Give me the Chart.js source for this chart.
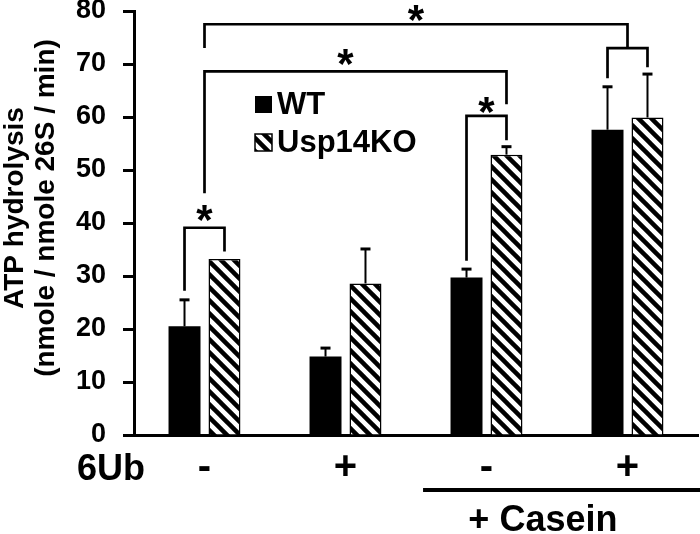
<!DOCTYPE html>
<html><head><meta charset="utf-8">
<script src="https://cdn.jsdelivr.net/npm/chart.js@4/dist/chart.umd.min.js"></script>
<style>html,body{margin:0;padding:0;background:#fff;}#wrap{width:700px;height:534px;}</style>
</head><body><div id="wrap"><canvas id="c" width="700" height="534"></canvas></div>
<script>
// ---- data ----
const categories = ['-', '+', '-', '+'];
const seriesNames = ['WT', 'Usp14KO'];
const wtValues = [20.5, 14.8, 29.7, 57.6];
const koValues = [33.2, 28.6, 52.9, 59.9];
const wtErrors = [5.0, 1.6, 1.6, 8.1];
const koErrors = [0, 6.5, 1.5, 8.2];
const yTicks = [0, 10, 20, 30, 40, 50, 60, 70, 80];
const yTitle = ['ATP hydrolysis', '(nmole / nmole 26S / min)'];
const rowLabel = '6Ub';
const groupLabel = '+ Casein';
// significance brackets: points as [[category, bar(0=WT,1=KO,'mid')], value]
const brackets = [
  [[[0,0],27.2],[[0,0],39.1],[[0,1],39.1],[[0,1],34.6]],
  [[[0,'mid'],45.6],[[0,'mid'],68.6],[[2,1],68.6],[[2,1],62.4]],
  [[[2,0],32.9],[[2,0],60.2],[[2,1],60.2],[[2,1],55.6]],
  [[[3,0],67.3],[[3,0],73.0],[[3,1],73.0],[[3,1],69.4]],
  [[[0,'mid'],73.0],[[0,'mid'],77.5],[[3,'mid'],77.5],[[3,'mid'],73.0]]
];
const stars = [[[0,'mid'],41.8],[[1,'mid'],71.1],[[2,'mid'],62.2],[[1.5,'mid'],79.4]];
const caseinRange = [1.55, 3.6];
const caseinTextAt = 2.4;

const FONT = "'Liberation Sans', Arial, sans-serif";

function makeHatch() {
  const s = 13;
  const c = document.createElement('canvas');
  c.width = s; c.height = s;
  const g = c.getContext('2d');
  g.fillStyle = '#fff'; g.fillRect(0, 0, s, s);
  g.strokeStyle = '#000'; g.lineWidth = 4.5;
  for (let k = -1; k <= 1; k++) {
    g.beginPath(); g.moveTo(k * s - 2, -2); g.lineTo(k * s + s + 2, s + 2); g.stroke();
  }
  return document.getElementById('c').getContext('2d').createPattern(c, 'repeat');
}
const hatch = makeHatch();

const errorSets = [wtErrors, koErrors];
const valueSets = [wtValues, koValues];

const annot = {
  id: 'annot',
  afterDatasetsDraw(chart) {
    const ctx = chart.ctx;
    const xs = chart.scales.x, ys = chart.scales.y;
    const metas = [chart.getDatasetMeta(0), chart.getDatasetMeta(1)];
    const px = (ref) => {
      const [cat, b] = ref;
      if (b === 'mid') return xs.getPixelForValue(cat);
      return metas[b].data[cat].x;
    };
    ctx.save();
    ctx.strokeStyle = '#000'; ctx.fillStyle = '#000';
    // error bars
    for (let d = 0; d < 2; d++) {
      metas[d].data.forEach((bar, i) => {
        const e = errorSets[d][i];
        if (!e) return;
        const top = ys.getPixelForValue(valueSets[d][i] + e);
        ctx.lineWidth = 2;
        ctx.beginPath(); ctx.moveTo(bar.x, bar.y); ctx.lineTo(bar.x, top); ctx.stroke();
        ctx.lineWidth = 3;
        ctx.beginPath(); ctx.moveTo(bar.x - 5, top); ctx.lineTo(bar.x + 5, top); ctx.stroke();
      });
    }
    // brackets
    ctx.lineWidth = 2.7; ctx.lineJoin = 'miter'; ctx.lineCap = 'butt';
    brackets.forEach(path => {
      ctx.beginPath();
      path.forEach(([ref, v], k) => {
        const X = px(ref), Y = ys.getPixelForValue(v);
        if (k === 0) ctx.moveTo(X, Y); else ctx.lineTo(X, Y);
      });
      ctx.stroke();
    });
    // stars
    ctx.font = 'bold 42px ' + FONT;
    ctx.textAlign = 'center'; ctx.textBaseline = 'alphabetic';
    stars.forEach(([ref, v]) => {
      ctx.fillText('*', px(ref), ys.getPixelForValue(v) + 0.48 * 42);
    });
    // legend
    const lx = 255, ly = [96, 134], sq = 17;
    ctx.font = 'bold 31px ' + FONT;
    ctx.textAlign = 'left'; ctx.textBaseline = 'middle';
    for (let d = 0; d < 2; d++) {
      const ds = chart.data.datasets[d];
      ctx.fillStyle = ds.backgroundColor;
      ctx.fillRect(lx, ly[d], sq, sq);
      if (d === 1) { ctx.lineWidth = 1.5; ctx.strokeStyle = '#000'; ctx.strokeRect(lx, ly[d], sq, sq); }
      ctx.fillStyle = '#000';
      ctx.fillText(ds.label, lx + 22, ly[d] + sq / 2 + 1);
    }
    // y title
    const cy = 208;
    ctx.font = 'bold 28px ' + FONT;
    ctx.textAlign = 'center'; ctx.textBaseline = 'alphabetic';
    [[23, yTitle[0]], [54, yTitle[1]]].forEach(([x, t]) => {
      ctx.save(); ctx.translate(x, cy); ctx.rotate(-Math.PI / 2); ctx.fillText(t, 0, 0); ctx.restore();
    });
    // row label
    ctx.font = 'bold 36px ' + FONT;
    ctx.textAlign = 'right';
    ctx.fillText(rowLabel, 145, 480);
    // casein line + text
    ctx.lineWidth = 4;
    ctx.beginPath();
    ctx.moveTo(xs.getPixelForValue(caseinRange[0]), 490);
    ctx.lineTo(Math.min(xs.getPixelForValue(caseinRange[1]), 700), 490);
    ctx.stroke();
    ctx.textAlign = 'center';
    ctx.fillText(groupLabel, xs.getPixelForValue(caseinTextAt), 531);
    ctx.restore();
  }
};

new Chart(document.getElementById('c'), {
  type: 'bar',
  data: {
    labels: categories,
    datasets: [
      { label: seriesNames[0], data: wtValues, backgroundColor: '#000', borderColor: '#000', borderWidth: 0,
        categoryPercentage: 0.567, barPercentage: 0.8 },
      { label: seriesNames[1], data: koValues, backgroundColor: hatch, borderColor: '#000', borderWidth: 1.5,
        categoryPercentage: 0.567, barPercentage: 0.8 }
    ]
  },
  options: {
    responsive: false, animation: false, devicePixelRatio: 1,
    layout: { padding: { top: 11, right: 2, left: 0, bottom: 0 } },
    plugins: { legend: { display: false }, tooltip: { enabled: false } },
    scales: {
      x: {
        grid: { display: false, drawTicks: false },
        border: { display: true, color: '#000', width: 3 },
        ticks: { font: { family: FONT, size: 40, weight: 'bold' }, color: '#000', padding: 9, maxRotation: 0, autoSkip: false },
        afterFit: s => { s.height = 99; s.paddingLeft = 0; s.paddingRight = 0; }
      },
      y: {
        min: 0, max: 80,
        afterBuildTicks: s => { s.ticks = yTicks.map(v => ({ value: v })); },
        ticks: { font: { family: FONT, size: 27, weight: 'bold' }, color: '#000', padding: 17 },
        grid: { drawOnChartArea: false, drawTicks: true, tickLength: 11, tickWidth: 3, tickColor: '#000' },
        border: { display: true, color: '#000', width: 3 },
        afterFit: s => { s.width = 134; s.paddingTop = 0; s.paddingBottom = 0; }
      }
    }
  },
  plugins: [annot]
});
</script></body></html>
